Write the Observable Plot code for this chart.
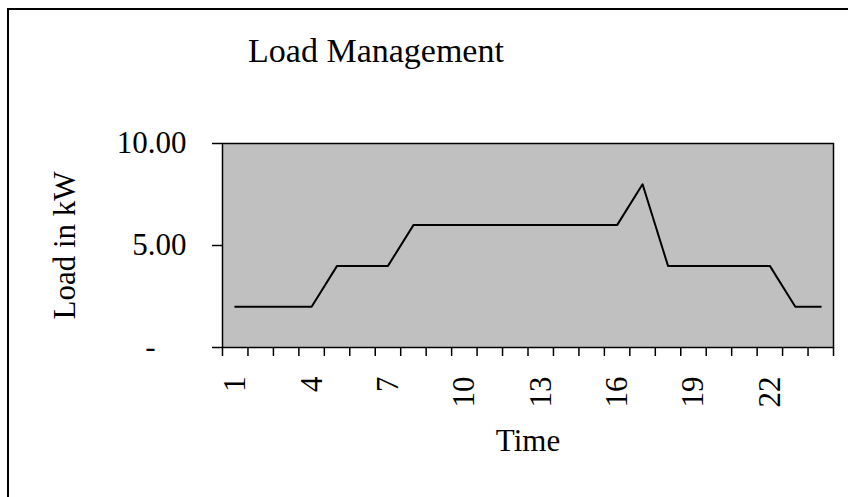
<!DOCTYPE html>
<html><head><meta charset="utf-8">
<script src="https://cdn.jsdelivr.net/npm/d3@7"></script>
<script src="https://cdn.jsdelivr.net/npm/@observablehq/plot@0.6"></script>
<style>
html,body{margin:0;padding:0;background:#fff;overflow:hidden;}
#wrap{position:relative;width:848px;height:497px;font-family:"Liberation Serif","Times New Roman",serif;}
#border{position:absolute;left:7px;top:8px;width:900px;height:600px;border-left:2px solid #000;border-top:2px solid #000;box-sizing:border-box;pointer-events:none;}
#title{position:absolute;left:0;width:752px;top:34px;text-align:center;font-size:34px;line-height:34px;color:#000;}
#chart{position:absolute;left:0;top:0;}
</style>
</head><body>
<div id="wrap"><div id="chart"></div><div id="title">Load Management</div><div id="border"></div></div>
<script>
const hours = [1,2,3,4,5,6,7,8,9,10,11,12,13,14,15,16,17,18,19,20,21,22,23,24];
const load  = [2,2,2,2,4,4,4,6,6,6,6,6,6,6,6,6,8,4,4,4,4,4,2,2];
const xTickLabels = [1,4,7,10,13,16,19,22];
const yTicks = [0,5,10];
const yTickLabels = ["-\u00a0\u00a0\u00a0\u00a0","5.00","10.00"];

const data = hours.map((h,i)=>({hour:h, load:load[i]}));
const boundaries = hours.map(h=>h-0.5).concat([hours[hours.length-1]+0.5]);

const chart = Plot.plot({
  width:848, height:497,
  marginLeft:222, marginRight:15, marginTop:143, marginBottom:150,
  style:{fontFamily:'"Liberation Serif","Times New Roman",serif', fontSize:"31px", color:"#000", background:"transparent", overflow:"visible"},
  x:{type:"linear", domain:[0.5,24.5]},
  y:{domain:[0,10]},
  marks:[
    Plot.frame({fill:"#c0c0c0", stroke:"#000", strokeWidth:1.5}),
    Plot.axisY({ticks:yTicks, tickFormat:(d)=>yTickLabels[yTicks.indexOf(d)], tickSize:10, tickPadding:26, strokeWidth:1.5,
      label:"Load in kW", labelAnchor:"center", labelOffset:170, labelArrow:"none"}),
    Plot.axisX({ticks:boundaries, tickFormat:()=>"", tickSize:9, strokeWidth:1.5, label:null}),
    Plot.axisX({ticks:xTickLabels, tickFormat:(d)=>String(d), tickSize:0, tickRotate:-90, tickPadding:29,
      label:"Time", labelAnchor:"center", labelOffset:103, labelArrow:"none"}),
    Plot.line(data, {x:"hour", y:"load", stroke:"#000", strokeWidth:2})
  ]
});
document.getElementById("chart").appendChild(chart);
</script>
</body></html>
